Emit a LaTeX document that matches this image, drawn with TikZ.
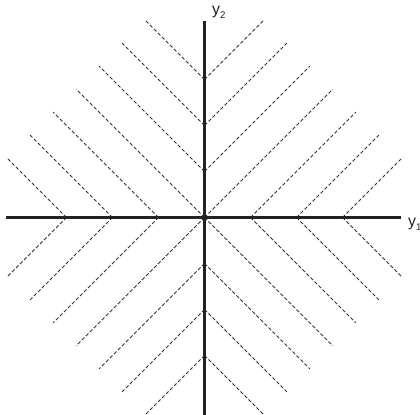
\documentclass[tikz,border=0pt]{standalone}
\usepackage{fontspec}
\setmainfont{Liberation Sans}
\usepackage{tikz}
\definecolor{ink}{HTML}{222222}
\definecolor{muted}{HTML}{333333}
\newcommand{\lowidx}[1]{\raisebox{-2.3pt}{\fontsize{6}{7}\selectfont #1}}

\begin{document}
\begin{tikzpicture}[font=\fontsize{9.8}{11}\selectfont,
  axis/.style={draw=ink,line width=1.4pt},
  level/.style={draw=muted,line width=0.5pt,dash pattern=on 2.2pt off 1.3pt},
  lab/.style={inner sep=0pt,anchor=base west,color=ink}]
  \useasboundingbox (-4.446,-4.293) rectangle (4.685,4.728);
  % level lines |y1|-|y2| = const, one quadrant at a time
  \foreach \sx in {-1,1}
    \foreach \sy in {-1,1}
      \foreach \a/\b in {0/3,0/2,0/1,0/0,1/0,2/0,3/0}
        \draw[level] (\sx*\a,\sy*\b) -- ({\sx*(5.58-\b+\a)/2},{\sy*(5.58+\b-\a)/2});
  \coordinate (west) at (-4.32,0);
  \coordinate (east) at (4.27,0);
  \coordinate (south) at (0,-4.35);
  \coordinate (north) at (0,4.27);
  \draw[axis] (west) -- (east);
  \draw[axis] (south) -- (north);
  \node[lab] (y1) at (4.42,-0.2) {y\lowidx{1}};
  \node[lab] (y2) at (0.16,4.41) {y\lowidx{2}};
\end{tikzpicture}
\end{document}
